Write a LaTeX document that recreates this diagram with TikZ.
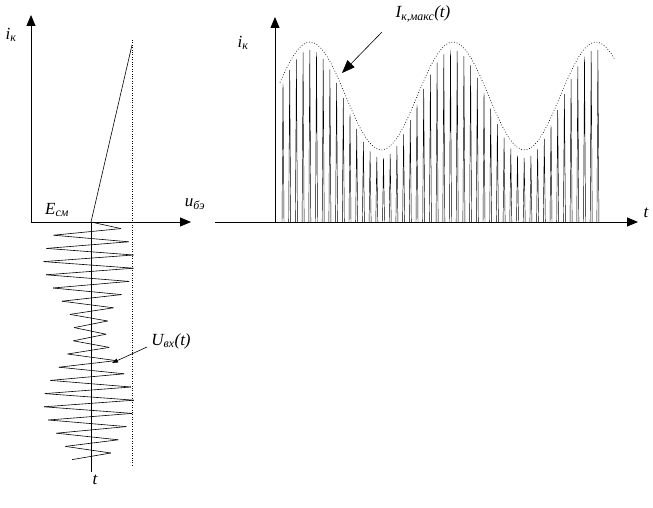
\documentclass[tikz,border=0pt]{standalone}
\usepackage{fontspec}
\setmainfont{Liberation Serif}
\usetikzlibrary{arrows.meta}
\begin{document}
\begin{tikzpicture}[x=1pt,y=-1pt,
  ax/.style={line width=0.8pt,-{Triangle[length=11pt,width=9pt]}},
  lbl/.style={font=\fontsize{17}{19}\selectfont\itshape,inner sep=0pt},
  ln/.style={line width=0.6pt}]
\useasboundingbox (0,0) rectangle (653,508);
% left plot
\draw[ax] (31,222) -- (31,15);
\draw[ax] (31,222) -- (191,222);
\draw[ln] (91,222) -- (132,45);
\draw[dotted] (132,40) -- (132,465);
\draw[ln] (91,222) -- (91,472);
\coordinate (z0) at (91,222);
\foreach \k [remember=\k as \p (initially 0)] in {1,...,36}{
  \pgfmathsetmacro{\yy}{222+\k*6.6}
  \pgfmathsetmacro{\aa}{29+14*cos((\yy-262)*2.5714)}
  \pgfmathsetmacro{\ss}{mod(\k,2)==0 ? -1.1 : 1}
  \coordinate (z\k) at ({91+\ss*\aa},\yy);
  \draw[ln] (z\p) -- (z\k);
}
\node[lbl] (ik1) at (11,35) {i\textsubscript{к}};
\node[lbl] (ecm) at (57,210) {E\textsubscript{см}};
\node[lbl] (ube) at (195,204) {u\textsubscript{бэ}};
\node[lbl] (t1) at (95,480) {t};
\node[lbl] (uvx) at (171,341) {U\textsubscript{вх}(t)};
\coordinate (uvxend) at (112,363);
\draw[ln,-{Triangle[length=6pt,width=4pt]}] (147,347) -- (uvxend);
% right plot
\draw[ax] (275,222) -- (275,17);
\draw[ax] (215,222) -- (638,222);
\node[lbl] (ik2) at (243,43) {i\textsubscript{к}};
\node[lbl] (t2) at (646,213) {t};
\draw[dotted,line width=0.7pt] plot[domain=280:615,samples=80] (\x,{96-54*cos((\x-310)*2.5175)});
\foreach \k in {0,...,47}{
  \pgfmathsetmacro{\xx}{283+\k*6.7}
  \pgfmathsetmacro{\hh}{104-54*cos((\xx-310)*2.5175)}
  \draw[line width=0.45pt] (\xx-1,222) -- (\xx,\hh) -- (\xx+1,222);
}
\node[lbl] (imax) at (423,14) {I\textsubscript{к,макс}(t)};
\coordinate (imaxend) at (342,73);
\draw[ln,-{Triangle[length=13pt,width=10pt]}] (382,32) -- (imaxend);
\end{tikzpicture}
\end{document}
